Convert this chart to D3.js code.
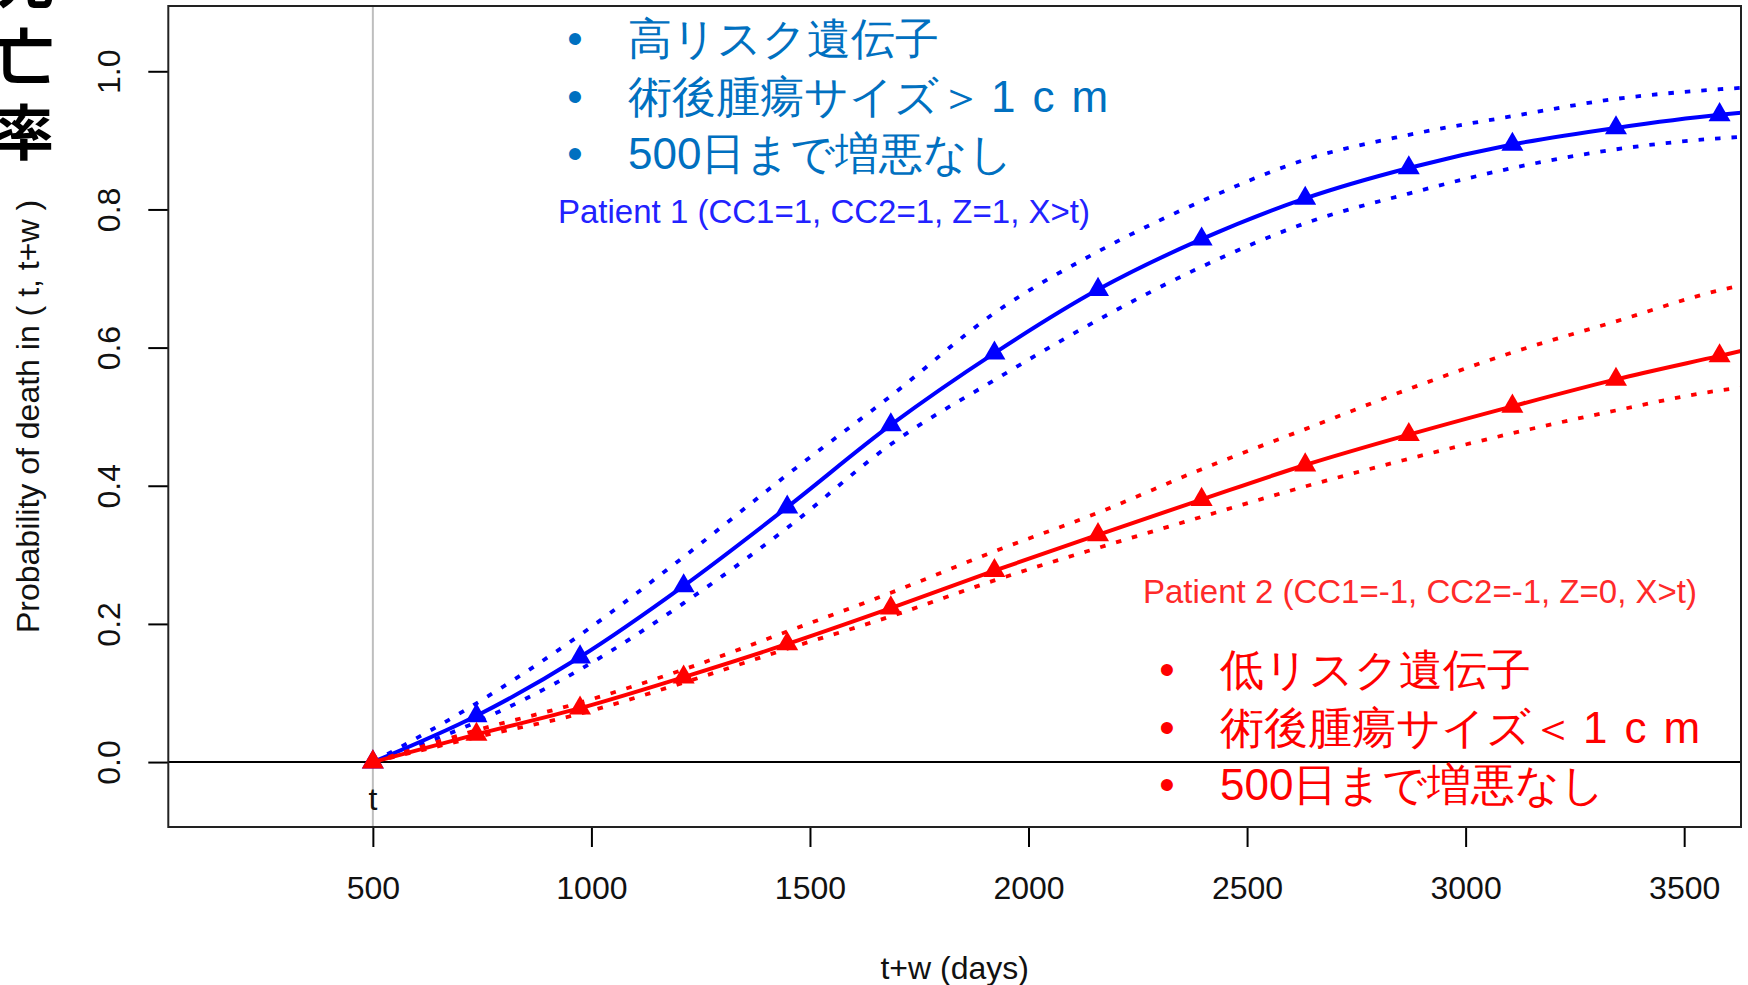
<!DOCTYPE html>
<html>
<head>
<meta charset="utf-8">
<script src="https://cdn.jsdelivr.net/npm/d3@7"></script>
<style>
  body { margin: 0; background: #fff; }
  text { font-family: "Liberation Sans", Arial, sans-serif; }
  .jp { font-family: "Noto Sans CJK JP", sans-serif; }
</style>
</head>
<body>
<div id="plot"></div>
<script>
// t+w (days); the last value is only where the lines leave the plot box
var days = [500, 737, 974, 1211, 1448, 1685, 1922, 2159, 2396, 2633, 2870, 3107, 3344, 3581, 3630];
var n_marks = 14;

// patient 1 (blue)
var p1 = [0, 0.067, 0.152, 0.255, 0.369, 0.488, 0.592, 0.684, 0.757, 0.816, 0.860, 0.894, 0.918, 0.937, 0.940];
var p1_upper = [0, 0.085, 0.184, 0.297, 0.416, 0.530, 0.650, 0.739, 0.812, 0.872, 0.908, 0.935, 0.960, 0.974, 0.976];
var p1_lower = [0, 0.058, 0.134, 0.230, 0.339, 0.460, 0.553, 0.640, 0.717, 0.780, 0.823, 0.860, 0.887, 0.903, 0.905];

// patient 2 (red)
var p2 = [0, 0.040, 0.078, 0.123, 0.171, 0.223, 0.277, 0.329, 0.380, 0.430, 0.474, 0.515, 0.554, 0.588, 0.595];
var p2_upper = [0, 0.046, 0.086, 0.134, 0.189, 0.245, 0.305, 0.361, 0.424, 0.482, 0.540, 0.593, 0.638, 0.683, 0.690];
var p2_lower = [0, 0.036, 0.070, 0.115, 0.164, 0.211, 0.263, 0.310, 0.355, 0.399, 0.439, 0.476, 0.509, 0.538, 0.542];

var x_ticks = [500, 1000, 1500, 2000, 2500, 3000, 3500];
var y_ticks = [0.0, 0.2, 0.4, 0.6, 0.8, 1.0];

var t_day = 500;
var title_chars = ["死", "亡", "率"];
var p1_label = "Patient 1 (CC1=1, CC2=1, Z=1, X>t)";
var p2_label = "Patient 2 (CC1=-1, CC2=-1, Z=0, X>t)";
var p1_notes = [["高リスク遺伝子", ""], ["術後腫瘍サイズ＞", "1cm"], ["500日まで増悪なし", ""]];
var p2_notes = [["低リスク遺伝子", ""], ["術後腫瘍サイズ＜", "1cm"], ["500日まで増悪なし", ""]];

const total_width = 1748;
const total_height = 985;
const box = {left: 168.3, right: 1741, top: 6, bottom: 827};
const fs = 32;

var svg = d3.select("#plot").append("svg")
  .attr("width", total_width)
  .attr("height", total_height);

svg.append("rect").attr("width", total_width).attr("height", total_height).attr("fill", "#fff");

var x = d3.scaleLinear().domain([32, 3630]).range([box.left, box.right]);
var y = d3.scaleLinear().domain([-0.094, 1.0945]).range([box.bottom, box.top]);

svg.append("defs").append("clipPath").attr("id", "clip")
  .append("rect")
  .attr("x", box.left).attr("y", box.top)
  .attr("width", box.right - box.left).attr("height", box.bottom - box.top);

// axes, R style: ticks outside, labels a line away
var xAxis = d3.axisBottom(x).tickValues(x_ticks).tickSize(20).tickFormat(d3.format("d"));
var gx = svg.append("g").attr("transform", "translate(0," + box.bottom + ")").call(xAxis);
gx.select(".domain").remove();
gx.selectAll("line").attr("stroke", "#000").attr("stroke-width", 2);
gx.selectAll("text").style("font-size", fs + "px").attr("fill", "#111")
  .attr("dy", null).attr("y", 72);

var yAxis = d3.axisLeft(y).tickValues(y_ticks).tickSize(20).tickFormat(d3.format(".1f"));
var gy = svg.append("g").attr("transform", "translate(" + box.left + ",0)").call(yAxis);
gy.select(".domain").remove();
gy.selectAll("line").attr("stroke", "#000").attr("stroke-width", 2);
gy.selectAll("text").style("font-size", fs + "px").attr("fill", "#111")
  .attr("x", 0).attr("y", 0).attr("dy", null)
  .attr("text-anchor", "middle")
  .attr("transform", "translate(-48,0) rotate(-90)");

svg.append("text").attr("text-anchor", "middle").style("font-size", fs + "px").attr("fill", "#111")
  .attr("x", (box.left + box.right) / 2).attr("y", 979).text("t+w (days)");

svg.append("text").attr("text-anchor", "middle").style("font-size", fs + "px").attr("fill", "#111")
  .attr("transform", "translate(39," + (box.top + box.bottom) / 2 + ") rotate(-90)")
  .text("Probability of death in ( t, t+w )");

// vertical title, partly cut by the top edge
svg.append("g").selectAll("text").data(title_chars).enter().append("text")
  .attr("class", "jp")
  .attr("text-anchor", "middle")
  .attr("font-weight", 700)
  .style("font-size", "60px")
  .attr("x", 24)
  .attr("y", function(d, i) { return 3 + i * 76; })
  .text(function(d) { return d; });

// reference lines
var plot = svg.append("g").attr("clip-path", "url(#clip)");
plot.append("line").attr("x1", x(t_day)).attr("x2", x(t_day)).attr("y1", box.top).attr("y2", box.bottom)
  .attr("stroke", "#bebebe").attr("stroke-width", 2);
plot.append("line").attr("x1", box.left).attr("x2", box.right).attr("y1", y(0)).attr("y2", y(0))
  .attr("stroke", "#000").attr("stroke-width", 2);

var line = d3.line()
  .x(function(d) { return x(d[0]); })
  .y(function(d) { return y(d[1]); })
  .curve(d3.curveMonotoneX);

function draw_patient(mean, upper, lower, color) {
  [upper, lower].forEach(function(s) {
    plot.append("path").datum(d3.zip(days, s))
      .attr("d", line).attr("fill", "none")
      .attr("stroke", color).attr("stroke-width", 3.8)
      .attr("stroke-dasharray", "5.5,11");
  });
  plot.append("path").datum(d3.zip(days, mean))
    .attr("d", line).attr("fill", "none")
    .attr("stroke", color).attr("stroke-width", 4);
  plot.append("g").selectAll("path").data(d3.zip(days, mean).slice(0, n_marks)).enter().append("path")
    .attr("d", d3.symbol(d3.symbolTriangle, 210))
    .attr("transform", function(d) { return "translate(" + x(d[0]) + "," + y(d[1]) + ")"; })
    .attr("fill", color);
}

draw_patient(p1, p1_upper, p1_lower, "#0000ff");
draw_patient(p2, p2_upper, p2_lower, "#ff0000");

// box
svg.append("rect").attr("x", box.left).attr("y", box.top)
  .attr("width", box.right - box.left).attr("height", box.bottom - box.top)
  .attr("fill", "none").attr("stroke", "#222").attr("stroke-width", 2);

svg.append("text").attr("text-anchor", "middle").style("font-size", fs + "px").attr("fill", "#111")
  .attr("x", x(t_day)).attr("y", 810).text("t");

svg.append("text").style("font-size", "33px").attr("fill", "#2222ff")
  .attr("x", 558).attr("y", 223).text(p1_label);
svg.append("text").style("font-size", "33px").attr("fill", "#ff2a2a")
  .attr("x", 1143).attr("y", 603).text(p2_label);

function draw_notes(notes, x0, y0, color) {
  var g = svg.append("g").attr("class", "jp").attr("fill", color).style("font-size", "44px");
  g.selectAll("text.b").data(notes).enter().append("text")
    .attr("x", x0).attr("y", function(d, i) { return y0 + i * 57.5; })
    .attr("text-anchor", "middle").text("•");
  var t = g.selectAll("text.t").data(notes).enter().append("text")
    .attr("x", x0 + 53).attr("y", function(d, i) { return y0 + i * 57.5; });
  t.append("tspan").text(function(d) { return d[0]; });
  t.append("tspan").attr("dx", 8).style("letter-spacing", "17px").text(function(d) { return d[1]; });
}

draw_notes(p1_notes, 575, 54, "#0070c0");
draw_notes(p2_notes, 1167, 685, "#ff0000");
</script>
</body>
</html>
